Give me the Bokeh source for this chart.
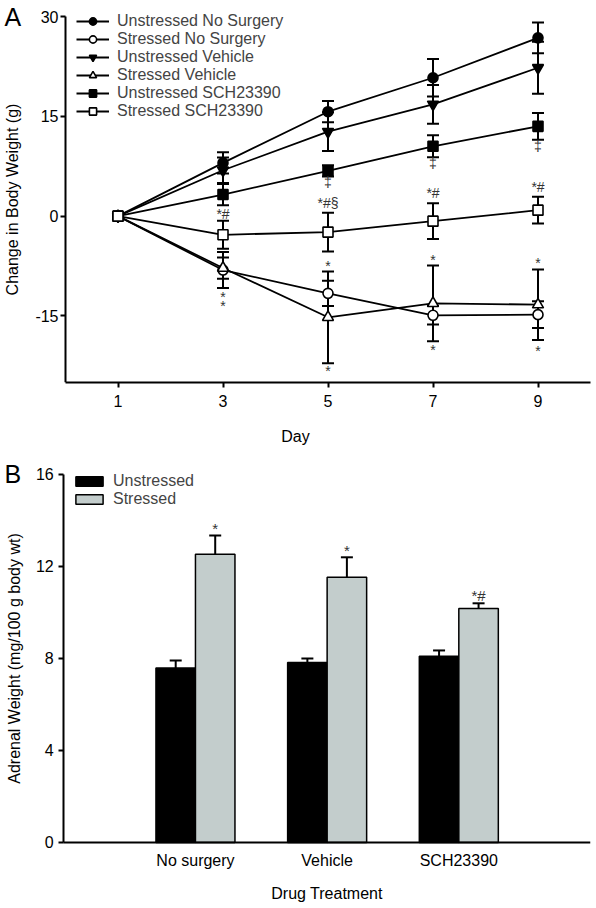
from bokeh.plotting import figure
from bokeh.models import (ColumnDataSource, Whisker, TeeHead, Legend, LegendItem,
                          Label, FixedTicker, Range1d)
from bokeh.layouts import column
from bokeh.embed import file_html
from bokeh.resources import INLINE
from bokeh.core.properties import value

FONT = "Liberation Sans"

# ---------------- Panel A data ----------------
days = [1, 3, 5, 7, 9]
uns_nosurg = [0, 8.0, 15.7, 20.8, 26.8]
uns_nosurg_err = [0.3, 1.6, 1.6, 2.8, 2.3]
str_nosurg = [0, -8.1, -11.6, -14.9, -14.8]
str_nosurg_err = [0.3, 2.7, 1.9, 1.4, 2.0]
uns_veh = [0, 6.9, 12.7, 16.8, 22.3]
uns_veh_err = [0.3, 1.9, 2.9, 2.9, 3.9]
str_veh = [0, -7.8, -15.2, -13.1, -13.3]
str_veh_err = [0.3, 1.6, 6.9, 5.7, 5.3]
uns_sch = [0, 3.25, 6.8, 10.5, 13.5]
uns_sch_err = [0.3, 1.6, 0.85, 1.65, 2.0]
str_sch = [0, -2.8, -2.4, -0.75, 0.9]
str_sch_err = [0.3, 2.1, 2.9, 2.7, 2.0]

a_labels = ["Unstressed No Surgery", "Stressed No Surgery", "Unstressed Vehicle",
            "Stressed Vehicle", "Unstressed SCH23390", "Stressed SCH23390"]
a_x_ticks = [1, 3, 5, 7, 9]
a_y_ticks = [-15, 0, 15, 30]

ann_day = [3, 3, 3, 5, 5, 5, 5, 7, 7, 7, 7, 9, 9, 9, 9]
ann_y = [0.35, -12.1, -13.5, 5.2, 2.0, -7.5, -23.2, 8.0, 3.5, -6.6, -20.1,
         10.6, 4.45, -7.1, -20.3]
ann_text = ["*#", "*", "*", "\u2021", "*#\u00a7", "*", "*", "\u2021", "*#", "*", "*",
            "\u2021", "*#", "*", "*"]

# ---------------- Panel B data ----------------
treatments = ["No surgery", "Vehicle", "SCH23390"]
unstressed = [7.59, 7.83, 8.10]
unstressed_err = [0.32, 0.17, 0.25]
stressed = [12.53, 11.53, 10.17]
stressed_err = [0.82, 0.87, 0.23]
b_ann = ["*", "*", "*#"]
b_ann_y = [13.67, 12.7, 10.75]
b_y_ticks = [0, 4, 8, 12, 16]


def style_axes(p):
    for ax in (p.xaxis[0], p.yaxis[0]):
        ax.axis_line_width = 2
        ax.axis_line_color = "black"
        ax.major_tick_line_width = 2
        ax.major_tick_line_color = "black"
        ax.major_tick_in = 0
        ax.major_tick_out = 5
        ax.minor_tick_line_color = None
        ax.major_label_text_font = FONT
        ax.major_label_text_font_size = "16px"
        ax.major_label_text_color = "black"
        ax.axis_label_text_font = FONT
        ax.axis_label_text_font_size = "16px"
        ax.axis_label_text_font_style = "normal"
        ax.axis_label_text_color = "black"
    p.xgrid.visible = False
    p.ygrid.visible = False
    p.outline_line_color = None
    p.background_fill_color = "white"
    p.border_fill_color = "white"


# ================= Panel A =================
# frame spans the whole figure width; the y axis is pinned at x = 0
pA = figure(width=596, height=448, output_backend="svg", toolbar_location=None,
            x_range=Range1d(-1.2381, 10), y_range=Range1d(-25, 32.41),
            min_border_left=0, min_border_right=6, min_border_top=0, min_border_bottom=66)
style_axes(pA)
pA.xaxis.ticker = FixedTicker(ticks=a_x_ticks)
pA.xaxis.bounds = (0, 10)
pA.yaxis.ticker = FixedTicker(ticks=a_y_ticks)
pA.yaxis.bounds = (-25, 30)
pA.yaxis.fixed_location = 0
pA.yaxis.major_label_overrides = {t: str(t) for t in a_y_ticks}
pA.xaxis.axis_label = "Day"
pA.yaxis.axis_label = "Change in Body Weight (g)"
pA.xaxis.major_label_standoff = 7
pA.xaxis.axis_label_standoff = 18
pA.yaxis.major_label_standoff = 2
pA.yaxis.axis_label_standoff = 11

series = [
    (uns_nosurg, uns_nosurg_err, "circle", "black", 10),
    (str_nosurg, str_nosurg_err, "circle", "white", 10),
    (uns_veh, uns_veh_err, "inverted_triangle", "black", 11),
    (str_veh, str_veh_err, "triangle", "white", 11),
    (uns_sch, uns_sch_err, "square", "black", 10),
    (str_sch, str_sch_err, "square", "white", 10),
]

items = []
for (vals, errs, marker, fill, size), lab in zip(series, a_labels):
    src = ColumnDataSource(dict(x=days, y=vals,
                                lo=[v - e for v, e in zip(vals, errs)],
                                hi=[v + e for v, e in zip(vals, errs)]))
    w = Whisker(source=src, base="x", lower="lo", upper="hi", line_width=2,
                line_color="black",
                upper_head=TeeHead(size=12, line_width=2, line_color="black"),
                lower_head=TeeHead(size=12, line_width=2, line_color="black"))
    pA.add_layout(w)
    ln = pA.line("x", "y", source=src, line_color="black", line_width=1.8)
    sc = pA.scatter("x", "y", source=src, marker=marker, size=size,
                    fill_color=fill, line_color="black", line_width=1.6)
    items.append(LegendItem(label=lab, renderers=[ln, sc]))

legA = Legend(items=items, location=(76, 262), glyph_width=33, glyph_height=18,
              label_height=18, spacing=0, padding=0, margin=0, label_standoff=8,
              label_text_font=FONT, label_text_font_size="16px",
              border_line_alpha=0, background_fill_alpha=0)
pA.add_layout(legA)

pA.text(x=ann_day, y=ann_y, text=ann_text, text_font=value(FONT),
        text_font_size="14px", text_align="center", text_baseline="middle",
        text_color="#333333")

pA.add_layout(Label(x=-1.162, y=29.93, text="A", text_font=FONT, text_font_size="25px",
                    text_baseline="middle", text_align="left", text_color="black"))

# ================= Panel B =================
# frame spans the whole figure; both axes are pinned at 0
pB = figure(width=596, height=460, output_backend="svg", toolbar_location=None,
            x_range=Range1d(-0.4805, 4), y_range=Range1d(-2.8696, 17.1304),
            min_border_left=0, min_border_right=6, min_border_top=0, min_border_bottom=0)
style_axes(pB)
centers = list(range(1, len(treatments) + 1))
pB.xaxis.ticker = FixedTicker(ticks=centers)
pB.xaxis.bounds = (0, 4)
pB.xaxis.fixed_location = 0
pB.xaxis.major_label_overrides = {c: t for c, t in zip(centers, treatments)}
pB.xaxis.major_tick_out = 0
pB.xaxis.major_label_standoff = 10
pB.xaxis.axis_label = "Drug Treatment"
pB.xaxis.axis_label_standoff = 12
pB.yaxis.ticker = FixedTicker(ticks=b_y_ticks)
pB.yaxis.bounds = (0, 16)
pB.yaxis.fixed_location = 0
pB.yaxis.axis_label = "Adrenal Weight (mg/100 g body wt)"
pB.yaxis.major_label_standoff = 5
pB.yaxis.axis_label_standoff = 10

bw = 0.30
srcU = ColumnDataSource(dict(x=[c - bw / 2 for c in centers], top=unstressed,
                             hi=[v + e for v, e in zip(unstressed, unstressed_err)]))
srcS = ColumnDataSource(dict(x=[c + bw / 2 for c in centers], top=stressed,
                             hi=[v + e for v, e in zip(stressed, stressed_err)]))
for src in (srcU, srcS):
    pB.add_layout(Whisker(source=src, base="x", lower="top", upper="hi", line_width=2,
                          line_color="black",
                          upper_head=TeeHead(size=12, line_width=2, line_color="black"),
                          lower_head=None))
vu = pB.vbar(x="x", top="top", bottom=0, width=bw, source=srcU, fill_color="black",
             line_color="black", line_width=1.5)
vs = pB.vbar(x="x", top="top", bottom=0, width=bw, source=srcS, fill_color="#c3cdcc",
             line_color="black", line_width=1.5)

legB = Legend(items=[LegendItem(label="Unstressed", renderers=[vu]),
                     LegendItem(label="Stressed", renderers=[vs])],
              location=(72, 334 + 66), glyph_width=34, glyph_height=12, label_height=18,
              spacing=0, padding=0, margin=0, label_standoff=7,
              label_text_font=FONT, label_text_font_size="16px",
              border_line_alpha=0, background_fill_alpha=0)
pB.add_layout(legB)

pB.text(x=[c + bw / 2 for c in centers], y=b_ann_y, text=b_ann, text_font=value(FONT),
        text_font_size="15px", text_align="center", text_baseline="middle",
        text_color="#333333")

pB.add_layout(Label(x=-0.45, y=16.0, text="B", text_font=FONT, text_font_size="25px",
                    text_baseline="middle", text_align="left", text_color="black"))

layout = column(pA, pB)
open("out.html", "w").write(file_html(layout, INLINE))
